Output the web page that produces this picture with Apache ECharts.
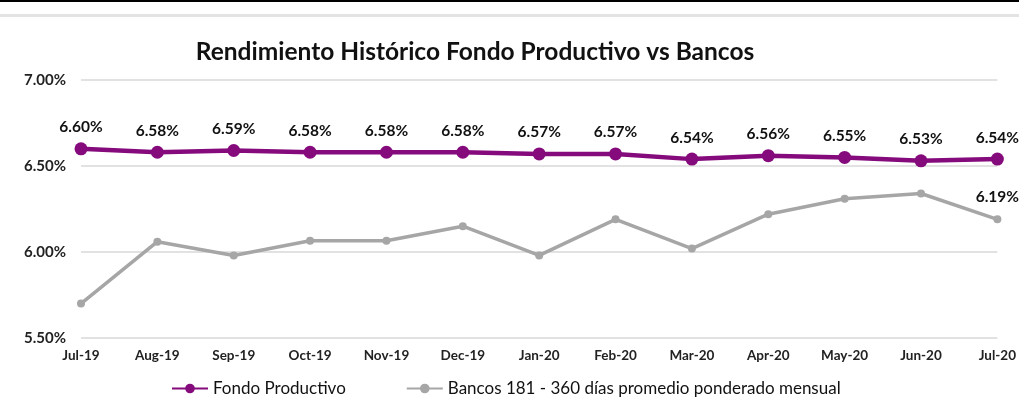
<!DOCTYPE html>
<html>
<head>
<meta charset="utf-8">
<script src="https://cdn.jsdelivr.net/npm/echarts@6/dist/echarts.min.js"></script>
<style>
  html, body { margin: 0; padding: 0; background: #fff; }
  #chart { width: 1019px; height: 405px; }
</style>
</head>
<body>
<div id="chart"></div>
<script>
// datos del grafico
const months = ['Jul-19', 'Aug-19', 'Sep-19', 'Oct-19', 'Nov-19', 'Dec-19', 'Jan-20',
  'Feb-20', 'Mar-20', 'Apr-20', 'May-20', 'Jun-20', 'Jul-20'];
const fondo = [6.60, 6.58, 6.59, 6.58, 6.58, 6.58, 6.57, 6.57, 6.54, 6.56, 6.55, 6.53, 6.54];
const bancos = [5.70, 6.06, 5.98, 6.065, 6.065, 6.15, 5.98, 6.19, 6.02, 6.22, 6.31, 6.34, 6.19];
const yTicks = { min: 5.5, max: 7.0, step: 0.5 };

const FONT = 'Lato, "Open Sans", sans-serif';
const purple = '#850b7d';
const grey = '#a6a6a6';

const chart = echarts.init(document.getElementById('chart'), null, { renderer: 'canvas' });

chart.setOption({
  animation: false,
  textStyle: { fontFamily: FONT },
  title: {
    text: 'Rendimiento Histórico Fondo Productivo vs Bancos',
    left: 470,
    textAlign: 'center',
    top: 35,
    textStyle: { fontSize: 24.5, fontWeight: 'bold', color: '#111', fontFamily: FONT }
  },
  graphic: [
    { type: 'rect', shape: { x: 0, y: 0, width: 1019, height: 2 }, style: { fill: '#000' } },
    { type: 'rect', shape: { x: 0, y: 14, width: 1019, height: 3 }, style: { fill: '#e3e3e3' } }
  ],
  grid: { left: 81, right: 21, top: 80, bottom: 67, containLabel: false },
  legend: {
    bottom: 3,
    left: 166,
    itemGap: 60,
    itemWidth: 36,
    itemHeight: 12,
    textStyle: { fontSize: 17, color: '#111', fontFamily: FONT },
    data: ['Fondo Productivo', 'Bancos 181 - 360 días promedio ponderado mensual']
  },
  xAxis: {
    type: 'category',
    data: months,
    boundaryGap: false,
    axisLine: { show: false },
    axisTick: { show: false },
    axisLabel: { fontSize: 13.5, fontWeight: 'bold', color: '#222', margin: 11 }
  },
  yAxis: {
    type: 'value',
    min: yTicks.min,
    max: yTicks.max,
    interval: yTicks.step,
    axisLine: { show: false },
    axisTick: { show: false },
    splitLine: { lineStyle: { color: '#d9d9d9', width: 1.5 } },
    axisLabel: {
      fontSize: 15, fontWeight: 'bold', color: '#222', margin: 15,
      formatter: v => v.toFixed(2) + '%'
    }
  },
  series: [
    {
      name: 'Fondo Productivo',
      type: 'line',
      data: fondo,
      symbol: 'circle',
      symbolSize: 13,
      lineStyle: { color: purple, width: 4.5 },
      itemStyle: { color: purple },
      label: {
        show: true, position: 'top', distance: 7,
        fontSize: 15.5, fontWeight: 'bold', color: '#111',
        formatter: p => p.value.toFixed(2) + '%'
      },
      z: 3
    },
    {
      name: 'Bancos 181 - 360 días promedio ponderado mensual',
      type: 'line',
      data: bancos.map((v, i) => i === bancos.length - 1
        ? { value: v, label: { show: true } } : v),
      symbol: 'circle',
      symbolSize: 8,
      lineStyle: { color: grey, width: 3.5 },
      itemStyle: { color: grey },
      label: {
        show: false, position: 'top', distance: 10,
        fontSize: 15.5, fontWeight: 'bold', color: '#111',
        formatter: p => p.value.toFixed(2) + '%'
      }
    }
  ]
});
</script>
</body>
</html>
